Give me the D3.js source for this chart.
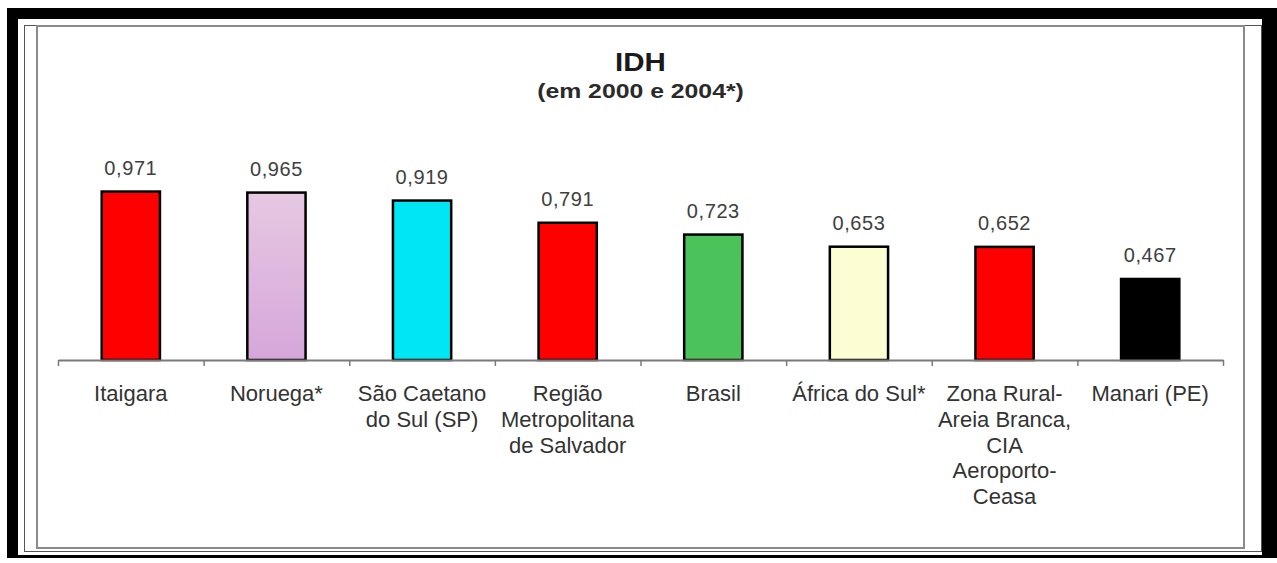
<!DOCTYPE html>
<html>
<head>
<meta charset="utf-8">
<script src="https://cdn.jsdelivr.net/npm/d3@7"></script>
<style>
  html, body { margin: 0; padding: 0; background: #fff; }
  svg { display: block; }
</style>
</head>
<body>
<svg id="chart" width="1277" height="563"></svg>
<script>
// ---- data ----
const categories = [
  ["Itaigara"],
  ["Noruega*"],
  ["São Caetano", "do Sul (SP)"],
  ["Região", "Metropolitana", "de Salvador"],
  ["Brasil"],
  ["África do Sul*"],
  ["Zona Rural-", "Areia Branca,", "CIA", "Aeroporto-", "Ceasa"],
  ["Manari (PE)"]
];
const values = [0.971, 0.965, 0.919, 0.791, 0.723, 0.653, 0.652, 0.467];
const valueLabels = ["0,971", "0,965", "0,919", "0,791", "0,723", "0,653", "0,652", "0,467"];
const barColors = ["#ff0000", "url(#lilac)", "#00e6f5", "#ff0000", "#4cc25a", "#fcfdd2", "#ff0000", "#000000"];
const title = "IDH";
const subtitle = "(em 2000 e 2004*)";

// ---- drawing ----
const svg = d3.select("#chart");

const defs = svg.append("defs");
const grad = defs.append("linearGradient").attr("id", "lilac")
  .attr("x1", 0).attr("y1", 0).attr("x2", 0).attr("y2", 1);
grad.append("stop").attr("offset", "0%").attr("stop-color", "#e6c8e2");
grad.append("stop").attr("offset", "100%").attr("stop-color", "#d6a6da");

// outer black frame
svg.append("rect").attr("x", 0).attr("y", 0).attr("width", 1277).attr("height", 563).attr("fill", "#fff");
svg.append("rect").attr("x", 7).attr("y", 8).attr("width", 1270).attr("height", 550).attr("fill", "#000");
svg.append("rect").attr("x", 18).attr("y", 19).attr("width", 1244).attr("height", 536).attr("fill", "#fff");
// thin offset frame
svg.append("rect").attr("x", 24.5).attr("y", 25.5).attr("width", 1237).attr("height", 526)
  .attr("fill", "none").attr("stroke", "#555").attr("stroke-width", 1);
// chart area
svg.append("rect").attr("x", 37).attr("y", 26).attr("width", 1207).attr("height", 522)
  .attr("fill", "#fff").attr("stroke", "#8a8a8a").attr("stroke-width", 2);

const x0 = 58, x1 = 1223, axisY = 360;
const x = d3.scaleBand().domain(d3.range(categories.length)).range([x0, x1])
  .paddingInner(0.6).paddingOuter(0.3);
const y = d3.scaleLinear().domain([0, 1]).range([axisY, axisY - 173.5]);

// title
svg.append("text").text(title)
  .attr("transform", `translate(640.5,71) scale(1.18,1)`)
  .attr("text-anchor", "middle").attr("font-family", "Liberation Sans, Arial, sans-serif")
  .attr("font-weight", "bold").attr("font-size", 25).attr("fill", "#1a1a1a");
svg.append("text").text(subtitle)
  .attr("transform", `translate(640.5,98) scale(1.24,1)`)
  .attr("text-anchor", "middle").attr("font-family", "Liberation Sans, Arial, sans-serif")
  .attr("font-weight", "bold").attr("font-size", 20).attr("fill", "#2a2a2a");

// bars
svg.append("g").selectAll("rect").data(values).join("rect")
  .attr("x", (d, i) => x(i))
  .attr("y", d => y(d))
  .attr("width", x.bandwidth())
  .attr("height", d => y(0) - y(d))
  .attr("fill", (d, i) => barColors[i])
  .attr("stroke", "#000").attr("stroke-width", 2.5);

// axis line and ticks
const axis = d3.axisBottom(d3.scaleLinear().domain([0, categories.length]).range([x0, x1]))
  .ticks(categories.length).tickFormat("").tickSizeOuter(0).tickSizeInner(6);
const ag = svg.append("g").attr("transform", `translate(0,${axisY})`).call(axis);
ag.select(".domain").attr("stroke", "#7a7a7a").attr("stroke-width", 2);
ag.selectAll(".tick line").attr("stroke", "#7a7a7a").attr("stroke-width", 1.5);

// value labels
svg.append("g").selectAll("text").data(values).join("text")
  .attr("x", (d, i) => x(i) + x.bandwidth() / 2)
  .attr("y", d => y(d) - 17)
  .attr("text-anchor", "middle")
  .attr("font-family", "Liberation Sans, Arial, sans-serif")
  .attr("font-size", 20).attr("letter-spacing", 0.6).attr("fill", "#404040")
  .text((d, i) => valueLabels[i]);

// category labels
const cg = svg.append("g").selectAll("text").data(categories).join("text")
  .attr("x", (d, i) => x(i) + x.bandwidth() / 2)
  .attr("y", 401)
  .attr("text-anchor", "middle")
  .attr("font-family", "Liberation Sans, Arial, sans-serif")
  .attr("font-size", 22).attr("fill", "#333");
cg.selectAll("tspan").data(d => d).join("tspan")
  .attr("x", function () { return d3.select(this.parentNode).attr("x"); })
  .attr("dy", (d, i) => i === 0 ? 0 : 25.8)
  .text(d => d);
</script>
</body>
</html>
